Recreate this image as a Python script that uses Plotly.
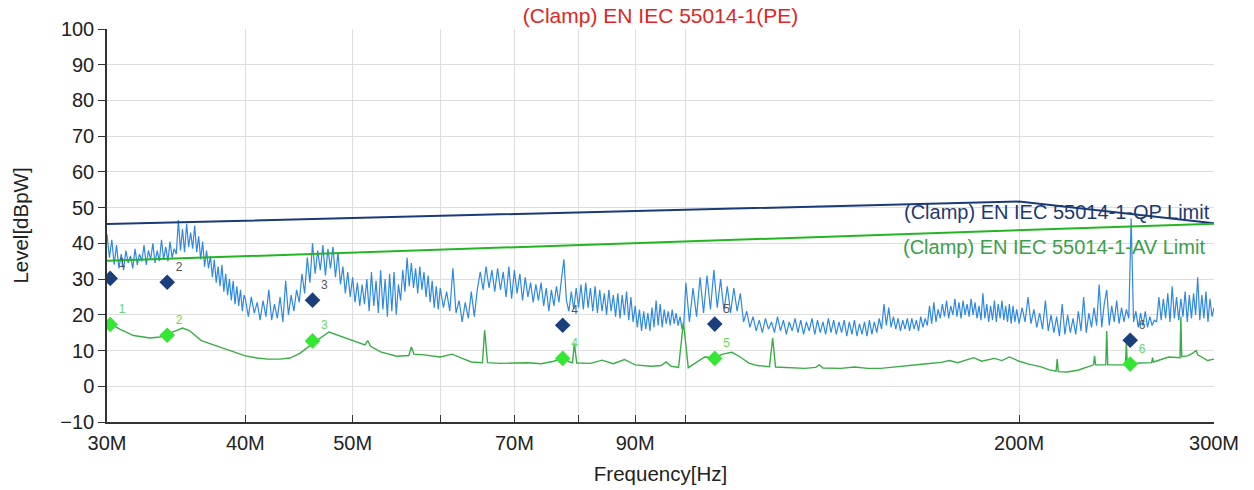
import plotly.graph_objects as go

# ---------------- data ----------------
TITLE = "(Clamp) EN IEC 55014-1(PE)"
X_TITLE = "Frequency[Hz]"
Y_TITLE = "Level[dBpW]"

X_TICK_MHZ = [30, 40, 50, 60, 70, 80, 90, 100, 200, 300]
X_TICK_TEXT = ["30M", "40M", "50M", "", "70M", "", "90M", "", "200M", "300M"]
Y_TICKS = [-10, 0, 10, 20, 30, 40, 50, 60, 70, 80, 90, 100]

# peak scan (blue), 30-40 MHz
PK_FREQ_A = [
    30.00, 30.15, 30.30, 30.45, 30.60, 30.75, 30.90, 31.05, 31.20, 31.35,
    31.50, 31.65, 31.80, 31.95, 32.10, 32.25, 32.40, 32.55, 32.70, 32.85,
    33.00, 33.15, 33.30, 33.45, 33.60, 33.75, 33.90, 34.05, 34.20, 34.35,
    34.50, 34.65, 34.80, 34.95, 35.10, 35.25, 35.40, 35.55, 35.70, 35.85,
    36.00, 36.15, 36.30, 36.45, 36.60, 36.75, 36.90, 37.05, 37.20, 37.35,
    37.50, 37.65, 37.80, 37.95, 38.10, 38.25, 38.40, 38.55, 38.70, 38.85,
    39.00, 39.15, 39.30, 39.45, 39.60, 39.75, 39.90,
]
PK_LEVEL_A = [
    42.5, 36.0, 41.0, 34.0, 39.5, 33.0, 37.0, 32.5, 38.0, 34.5,
    36.5, 33.0, 38.5, 34.0, 37.0, 35.0, 39.5, 34.0, 38.0, 35.5,
    40.0, 34.5, 38.0, 35.0, 41.0, 35.5, 39.0, 35.0, 40.5, 36.0,
    38.5, 37.0, 46.5, 38.0, 44.0, 37.5, 45.5, 39.0, 43.0, 38.5,
    45.0, 37.5, 42.0, 35.5, 40.5, 33.5, 38.0, 33.0, 36.5, 30.5,
    35.5, 29.0, 33.5, 28.0, 34.0, 26.5, 31.5, 25.5, 30.0, 24.0,
    29.5, 23.0, 28.0, 22.5, 27.0, 21.0, 25.5,
]
# 40-60 MHz
PK_FREQ_B = [
    40.00, 40.25, 40.50, 40.75, 41.00, 41.25, 41.50, 41.75, 42.00, 42.25,
    42.50, 42.75, 43.00, 43.25, 43.50, 43.75, 44.00, 44.25, 44.50, 44.75,
    45.00, 45.25, 45.50, 45.75, 46.00, 46.25, 46.50, 46.75, 47.00, 47.25,
    47.50, 47.75, 48.00, 48.25, 48.50, 48.75, 49.00, 49.25, 49.50, 49.75,
    50.00, 50.25, 50.50, 50.75, 51.00, 51.25, 51.50, 51.75, 52.00, 52.25,
    52.50, 52.75, 53.00, 53.25, 53.50, 53.75, 54.00, 54.25, 54.50, 54.75,
    55.00, 55.25, 55.50, 55.75, 56.00, 56.25, 56.50, 56.75, 57.00, 57.25,
    57.50, 57.75, 58.00, 58.25, 58.50, 58.75, 59.00, 59.25, 59.50, 59.75,
]
PK_LEVEL_B = [
    24.5, 19.5, 25.0, 20.5, 23.5, 18.5, 24.0, 19.5, 27.0, 18.5,
    23.0, 19.0, 25.0, 18.0, 29.5, 20.0, 25.5, 21.0, 27.0, 23.5,
    31.5, 26.0, 36.0, 29.0, 40.0, 31.5, 38.0, 32.5, 39.5, 31.0,
    38.5, 33.0, 39.0, 30.5, 37.5, 28.5, 33.5, 26.0, 32.0, 25.0,
    30.5, 23.5, 29.0, 22.5, 28.5, 23.0, 30.0, 21.0, 32.0, 22.5,
    29.5, 20.5, 32.5, 21.5, 30.0, 19.5, 31.5, 21.0, 32.0, 20.0,
    28.5, 24.0, 32.5, 26.5, 36.0, 28.0, 34.5, 27.5, 33.0, 26.0,
    33.5, 27.0, 32.0, 25.0, 31.0, 23.5, 29.5, 22.0, 28.0, 21.5,
]
# 60-100 MHz
PK_FREQ_C = [
    60.0, 60.4, 60.8, 61.2, 61.6, 62.0, 62.4, 62.8, 63.2, 63.6,
    64.0, 64.4, 64.8, 65.2, 65.6, 66.0, 66.4, 66.8, 67.2, 67.6,
    68.0, 68.4, 68.8, 69.2, 69.6, 70.0, 70.4, 70.8, 71.2, 71.6,
    72.0, 72.4, 72.8, 73.2, 73.6, 74.0, 74.4, 74.8, 75.2, 75.6,
    76.0, 76.4, 76.8, 77.2, 77.6, 78.0, 78.4, 78.8, 79.2, 79.6,
    80.0, 80.4, 80.8, 81.2, 81.6, 82.0, 82.4, 82.8, 83.2, 83.6,
    84.0, 84.4, 84.8, 85.2, 85.6, 86.0, 86.4, 86.8, 87.2, 87.6,
    88.0, 88.4, 88.8, 89.2, 89.6, 90.0, 90.4, 90.8, 91.2, 91.6,
    92.0, 92.4, 92.8, 93.2, 93.6, 94.0, 94.4, 94.8, 95.2, 95.6,
    96.0, 96.4, 96.8, 97.2, 97.6, 98.0, 98.4, 98.8, 99.2, 99.6,
]
PK_LEVEL_C = [
    27.5, 22.0, 26.5, 21.0, 33.0, 20.5, 24.0, 18.0, 23.5, 19.0,
    26.5, 19.5, 27.0, 32.0, 27.0, 33.5, 27.5, 32.5, 26.5, 33.0,
    27.0, 32.0, 25.0, 33.5, 24.5, 32.5, 26.0, 31.5, 24.0, 30.5,
    25.0, 29.0, 23.5, 28.5, 24.0, 29.0, 22.5, 27.5, 21.0, 27.0,
    22.5, 28.0, 23.5, 30.0, 35.5, 24.0, 21.0, 26.5, 21.5, 27.5,
    22.0, 28.5, 21.5, 29.0, 22.0, 27.5, 21.0, 28.0, 20.5, 27.0,
    21.0, 26.0, 20.0, 27.0, 21.0, 25.5, 19.5, 26.0, 19.0, 25.5,
    20.0, 26.5, 18.5, 25.0, 18.0, 22.5, 16.5, 21.5, 15.5, 21.0,
    16.0, 20.5, 15.5, 22.0, 16.5, 24.0, 17.0, 23.0, 16.5, 21.5,
    17.5, 21.0, 17.0, 21.5, 17.5, 20.5, 17.0, 19.5, 16.0, 18.0,
]
# 100-200 MHz
PK_FREQ_D = [
    100.00, 100.75, 101.50, 102.25, 103.00, 103.75, 104.50, 105.25, 106.00, 106.75,
    107.50, 108.25, 109.00, 109.75, 110.50, 111.25, 112.00, 112.75, 113.50, 114.25,
    115.00, 115.75, 116.50, 117.25, 118.00, 118.75, 119.50, 120.25, 121.00, 121.75,
    122.50, 123.25, 124.00, 124.75, 125.50, 126.25, 127.00, 127.75, 128.50, 129.25,
    130.00, 130.75, 131.50, 132.25, 133.00, 133.75, 134.50, 135.25, 136.00, 136.75,
    137.50, 138.25, 139.00, 139.75, 140.50, 141.25, 142.00, 142.75, 143.50, 144.25,
    145.00, 145.75, 146.50, 147.25, 148.00, 148.75, 149.50, 150.25, 151.00, 151.75,
    152.50, 153.25, 154.00, 154.75, 155.50, 156.25, 157.00, 157.75, 158.50, 159.25,
    160.00, 160.75, 161.50, 162.25, 163.00, 163.75, 164.50, 165.25, 166.00, 166.75,
    167.50, 168.25, 169.00, 169.75, 170.50, 171.25, 172.00, 172.75, 173.50, 174.25,
    175.00, 175.75, 176.50, 177.25, 178.00, 178.75, 179.50, 180.25, 181.00, 181.75,
    182.50, 183.25, 184.00, 184.75, 185.50, 186.25, 187.00, 187.75, 188.50, 189.25,
    190.00, 190.75, 191.50, 192.25, 193.00, 193.75, 194.50, 195.25, 196.00, 196.75,
    197.50, 198.25, 199.00,
]
PK_LEVEL_D = [
    29.0, 18.0, 27.5, 19.5, 30.5, 20.5, 31.0, 21.5, 32.5, 22.0,
    30.0, 21.0, 28.0, 20.5, 27.5, 21.0, 26.0, 18.0, 21.0, 16.5,
    19.5, 15.5, 18.5, 15.0, 19.0, 16.0, 18.0, 15.0, 19.5, 15.5,
    18.5, 14.5, 18.0, 15.5, 19.0, 15.0, 18.5, 14.5, 18.0, 15.5,
    19.0, 14.5, 18.5, 15.0, 18.0, 14.5, 19.0, 15.0, 18.5, 14.5,
    18.0, 15.0, 18.5, 14.0, 18.0, 14.5, 18.5, 14.0, 17.5, 14.5,
    18.0, 14.0, 18.5, 14.5, 18.0, 15.0, 19.0, 16.0, 23.0, 17.0,
    22.0, 16.5, 19.5, 16.0, 19.0, 15.5, 18.5, 16.0, 19.0, 15.5,
    19.0, 16.0, 18.5, 15.5, 19.5, 16.5, 19.0, 17.0, 22.5, 17.5,
    23.5, 18.0, 21.5, 19.0, 23.0, 19.5, 24.0, 19.0, 22.5, 20.0,
    24.5, 19.5, 23.5, 19.0, 24.0, 20.0, 23.0, 19.5, 24.5, 20.0,
    23.5, 19.0, 22.5, 18.5, 26.0, 19.0, 23.0, 18.0, 22.5, 18.5,
    24.0, 18.0, 23.0, 19.0, 24.0, 18.5, 22.5, 18.0, 23.0, 17.5,
    22.5, 18.0, 21.5,
]
# 200-300 MHz
PK_FREQ_E = [
    200.00, 201.25, 202.50, 203.75, 205.00, 206.25, 207.50, 208.75, 210.00, 211.25,
    212.50, 213.75, 215.00, 216.25, 217.50, 218.75, 220.00, 221.25, 222.50, 223.75,
    225.00, 226.25, 227.50, 228.75, 230.00, 231.25, 232.50, 233.75, 235.00, 236.25,
    237.50, 238.75, 240.00, 241.25, 242.50, 243.75, 245.00, 246.25, 247.50, 248.75,
    250.00, 251.25, 252.50, 253.75, 255.00, 256.25, 257.50, 258.75, 260.00, 261.25,
    262.50, 263.75, 265.00, 266.25, 267.50, 268.75, 270.00, 271.25, 272.50, 273.75,
    275.00, 276.25, 277.50, 278.75, 280.00, 281.25, 282.50, 283.75, 285.00, 286.25,
    287.50, 288.75, 290.00, 291.25, 292.50, 293.75, 295.00, 296.25, 297.50, 298.75,
    300.00,
]
PK_LEVEL_E = [
    17.5, 22.0, 18.0, 25.0, 17.5, 21.5, 16.5, 20.5, 16.0, 24.0,
    15.5, 20.0, 15.0, 19.5, 14.0, 23.0, 14.5, 20.0, 15.0, 19.0,
    14.5, 21.0, 15.5, 25.0, 15.0, 20.5, 16.5, 22.0, 17.0, 28.5,
    16.5, 23.0, 27.0, 17.0, 22.5, 18.0, 24.0, 17.5, 22.0, 18.0,
    21.5, 19.0, 47.0, 18.0, 21.0, 16.5, 20.5, 17.0, 21.0, 16.5,
    19.5, 17.0, 18.5, 18.0, 25.0, 18.5, 24.5, 19.0, 26.0, 18.0,
    28.0, 19.0, 25.0, 18.5, 24.5, 19.5, 26.5, 18.0, 25.5, 19.0,
    26.0, 20.0, 30.5, 18.5, 25.5, 19.0, 26.5, 18.0, 24.5, 19.5,
    22.0,
]

# average scan (green)
AV_FREQ_MHZ = [
    30.0, 30.2, 30.8, 31.7, 32.8, 33.5, 34.0, 34.6, 35.1, 35.6, 36.5, 37.9, 39.0, 40.0, 41.0, 41.9,
    43.0, 43.9, 44.8, 45.8, 46.6, 47.6, 48.5, 49.5, 50.5, 51.3, 51.6, 51.9, 53.0, 54.8, 56.2, 56.5,
    56.8, 58.0, 60.0, 61.5, 62.8, 64.0, 65.5, 65.8, 66.2, 68.0, 70.0, 72.0, 74.0, 76.0, 77.4, 78.5,
    79.0, 79.3, 79.7, 82.0, 84.0, 86.0, 88.0, 90.0, 93.0, 95.0, 96.0, 97.0, 98.5, 99.5, 100.5, 102.0,
    104.0, 106.2, 108.0, 110.0, 112.0, 114.0, 116.0, 119.0, 119.8, 120.5, 124.0, 128.0, 131.0, 132.0,
    133.0, 138.0, 142.0, 146.0, 150.0, 155.0, 160.0, 165.0, 170.0, 173.0, 176.0, 180.0, 182.0, 185.0,
    190.0, 193.0, 196.0, 200.0, 204.0, 209.0, 213.0, 216.0, 216.5, 217.0, 221.0, 226.0, 230.0, 233.5,
    234.0, 234.5, 239.5, 240.0, 240.5, 245.0, 249.5, 250.0, 250.5, 253.0, 257.0, 263.5, 264.0, 264.5,
    268.0, 273.0, 279.5, 280.0, 280.5, 284.0, 287.0, 289.0, 290.0, 293.0, 296.0, 300.0,
]
AV_LEVEL = [
    18.0, 17.5, 16.0, 14.2, 13.5, 13.8, 14.5, 15.5, 16.3, 15.6, 12.8, 11.0, 9.8, 8.5, 7.9, 7.6,
    7.6, 7.9, 9.2, 11.5, 13.2, 15.2, 14.3, 13.3, 12.4, 11.6, 12.8, 11.2, 9.6, 8.4, 8.6, 11.0,
    9.0, 8.8, 8.2, 9.0, 7.8, 6.8, 6.6, 15.7, 6.6, 6.4, 6.5, 6.6, 6.3, 7.0, 8.0, 6.8,
    6.6, 12.0, 6.5, 6.4, 7.3, 6.3, 7.5, 6.0, 5.6, 5.8, 6.8, 5.6, 5.3, 18.0, 5.2, 6.5,
    8.2, 8.0, 9.0, 9.5, 8.2, 6.5, 5.8, 5.5, 13.5, 5.4, 5.2, 5.0, 5.3, 6.0,
    5.1, 5.0, 5.4, 5.0, 5.0, 5.5, 6.0, 6.3, 6.7, 7.2, 6.6, 7.6, 8.0, 7.0,
    7.8, 7.2, 8.2, 7.0, 6.2, 5.5, 4.6, 4.2, 7.6, 4.1, 4.0, 4.5, 5.4, 6.0,
    8.5, 6.0, 6.0, 15.5, 6.0, 6.0, 6.0, 12.0, 6.0, 6.2, 6.5, 6.6, 8.0, 6.8,
    7.3, 8.2, 8.0, 19.5, 8.3, 8.5, 9.3, 10.0, 8.8, 8.0, 7.2, 7.6,
]

# limit lines
QP_LIMIT_FREQ_MHZ = [30, 200, 300]
QP_LIMIT_LEVEL = [45.4, 51.7, 45.6]
AV_LIMIT_FREQ_MHZ = [30, 300]
AV_LIMIT_LEVEL = [35.1, 45.5]
QP_LIMIT_NAME = "(Clamp) EN IEC 55014-1-QP Limit"
AV_LIMIT_NAME = "(Clamp) EN IEC 55014-1-AV Limit"

# final measurement markers
MK_FREQ_MHZ = [30.2, 34.0, 46.0, 77.4, 106.2, 252.0]
MK_LABELS = ["1", "2", "3", "4", "5", "6"]
QP_MK_LEVEL = [30.2, 29.1, 24.1, 17.1, 17.4, 12.9]
AV_MK_LEVEL = [17.3, 14.3, 12.7, 7.8, 7.8, 6.2]

# ---------------- styling ----------------
FONT = "Liberation Sans, Arial, sans-serif"
C_PK = "#2e88e4"
C_AV = "#3aad45"
C_QP_LIM = "#1b3a78"
C_AV_LIM = "#22b622"
C_QP_MK = "#1b3f7c"
C_AV_MK = "#33e833"


def hz(vals):
    return [v * 1e6 for v in vals]


PK_FREQ_MHZ = PK_FREQ_A + PK_FREQ_B + PK_FREQ_C + PK_FREQ_D + PK_FREQ_E
PK_LEVEL = PK_LEVEL_A + PK_LEVEL_B + PK_LEVEL_C + PK_LEVEL_D + PK_LEVEL_E

fig = go.Figure()
fig.add_trace(go.Scatter(x=hz(PK_FREQ_MHZ), y=PK_LEVEL, mode="lines",
                         line=dict(color=C_PK, width=1.2), hoverinfo="skip"))
fig.add_trace(go.Scatter(x=hz(AV_FREQ_MHZ), y=AV_LEVEL, mode="lines",
                         line=dict(color=C_AV, width=1.4), hoverinfo="skip"))
fig.add_trace(go.Scatter(x=hz(QP_LIMIT_FREQ_MHZ), y=QP_LIMIT_LEVEL, mode="lines",
                         line=dict(color=C_QP_LIM, width=2)))
fig.add_trace(go.Scatter(x=hz(AV_LIMIT_FREQ_MHZ), y=AV_LIMIT_LEVEL, mode="lines",
                         line=dict(color=C_AV_LIM, width=2)))
fig.add_trace(go.Scatter(x=hz(MK_FREQ_MHZ), y=QP_MK_LEVEL, mode="markers+text",
                         marker=dict(symbol="diamond", size=12, color=C_QP_MK),
                         text=MK_LABELS, textposition="top right",
                         textfont=dict(family=FONT, size=12, color="#555555")))
fig.add_trace(go.Scatter(x=hz(MK_FREQ_MHZ), y=AV_MK_LEVEL, mode="markers+text",
                         marker=dict(symbol="diamond", size=12, color=C_AV_MK),
                         text=MK_LABELS, textposition="top right",
                         textfont=dict(family=FONT, size=12, color="#66d966")))

fig.add_annotation(text=QP_LIMIT_NAME, xref="paper", yref="y", x=0.9985, y=48.8,
                   xanchor="right", yanchor="middle", showarrow=False,
                   font=dict(family=FONT, size=20, color="#1f3a6e"))
fig.add_annotation(text=AV_LIMIT_NAME, xref="paper", yref="y", x=0.9935, y=39.1,
                   xanchor="right", yanchor="middle", showarrow=False,
                   font=dict(family=FONT, size=20, color="#3aa04a"))

fig.update_layout(
    width=1254, height=490,
    margin=dict(l=107, r=40, t=29, b=68),
    paper_bgcolor="white", plot_bgcolor="white",
    showlegend=False,
    font=dict(family=FONT, size=20, color="#222222"),
    title=dict(text=TITLE, x=0.5, xref="paper", y=1 - 16 / 490, yref="container",
               xanchor="center", yanchor="middle",
               font=dict(family=FONT, size=21, color="#e02525")),
)
fig.update_xaxes(
    type="log", range=[7.4771, 8.4771],
    tickvals=hz(X_TICK_MHZ), ticktext=X_TICK_TEXT,
    ticks="inside", ticklen=7, tickcolor="#333333",
    showline=True, linecolor="#333333", linewidth=1.5,
    showgrid=True, gridcolor="#dedede", gridwidth=1,
    zeroline=False, ticklabelstandoff=2, automargin=False,
    title=dict(text=X_TITLE, standoff=14, font=dict(size=20.5)),
    tickfont=dict(size=20),
)
fig.update_yaxes(
    range=[-10, 100], tickvals=Y_TICKS,
    ticks="outside", ticklen=7, tickcolor="#333333",
    showline=True, linecolor="#333333", linewidth=1.5,
    showgrid=True, gridcolor="#dedede", gridwidth=1,
    zeroline=False, automargin=False,
    title=dict(text=Y_TITLE, standoff=26, font=dict(size=20.5)),
    tickfont=dict(size=20),
)

fig.write_html("out.html")
